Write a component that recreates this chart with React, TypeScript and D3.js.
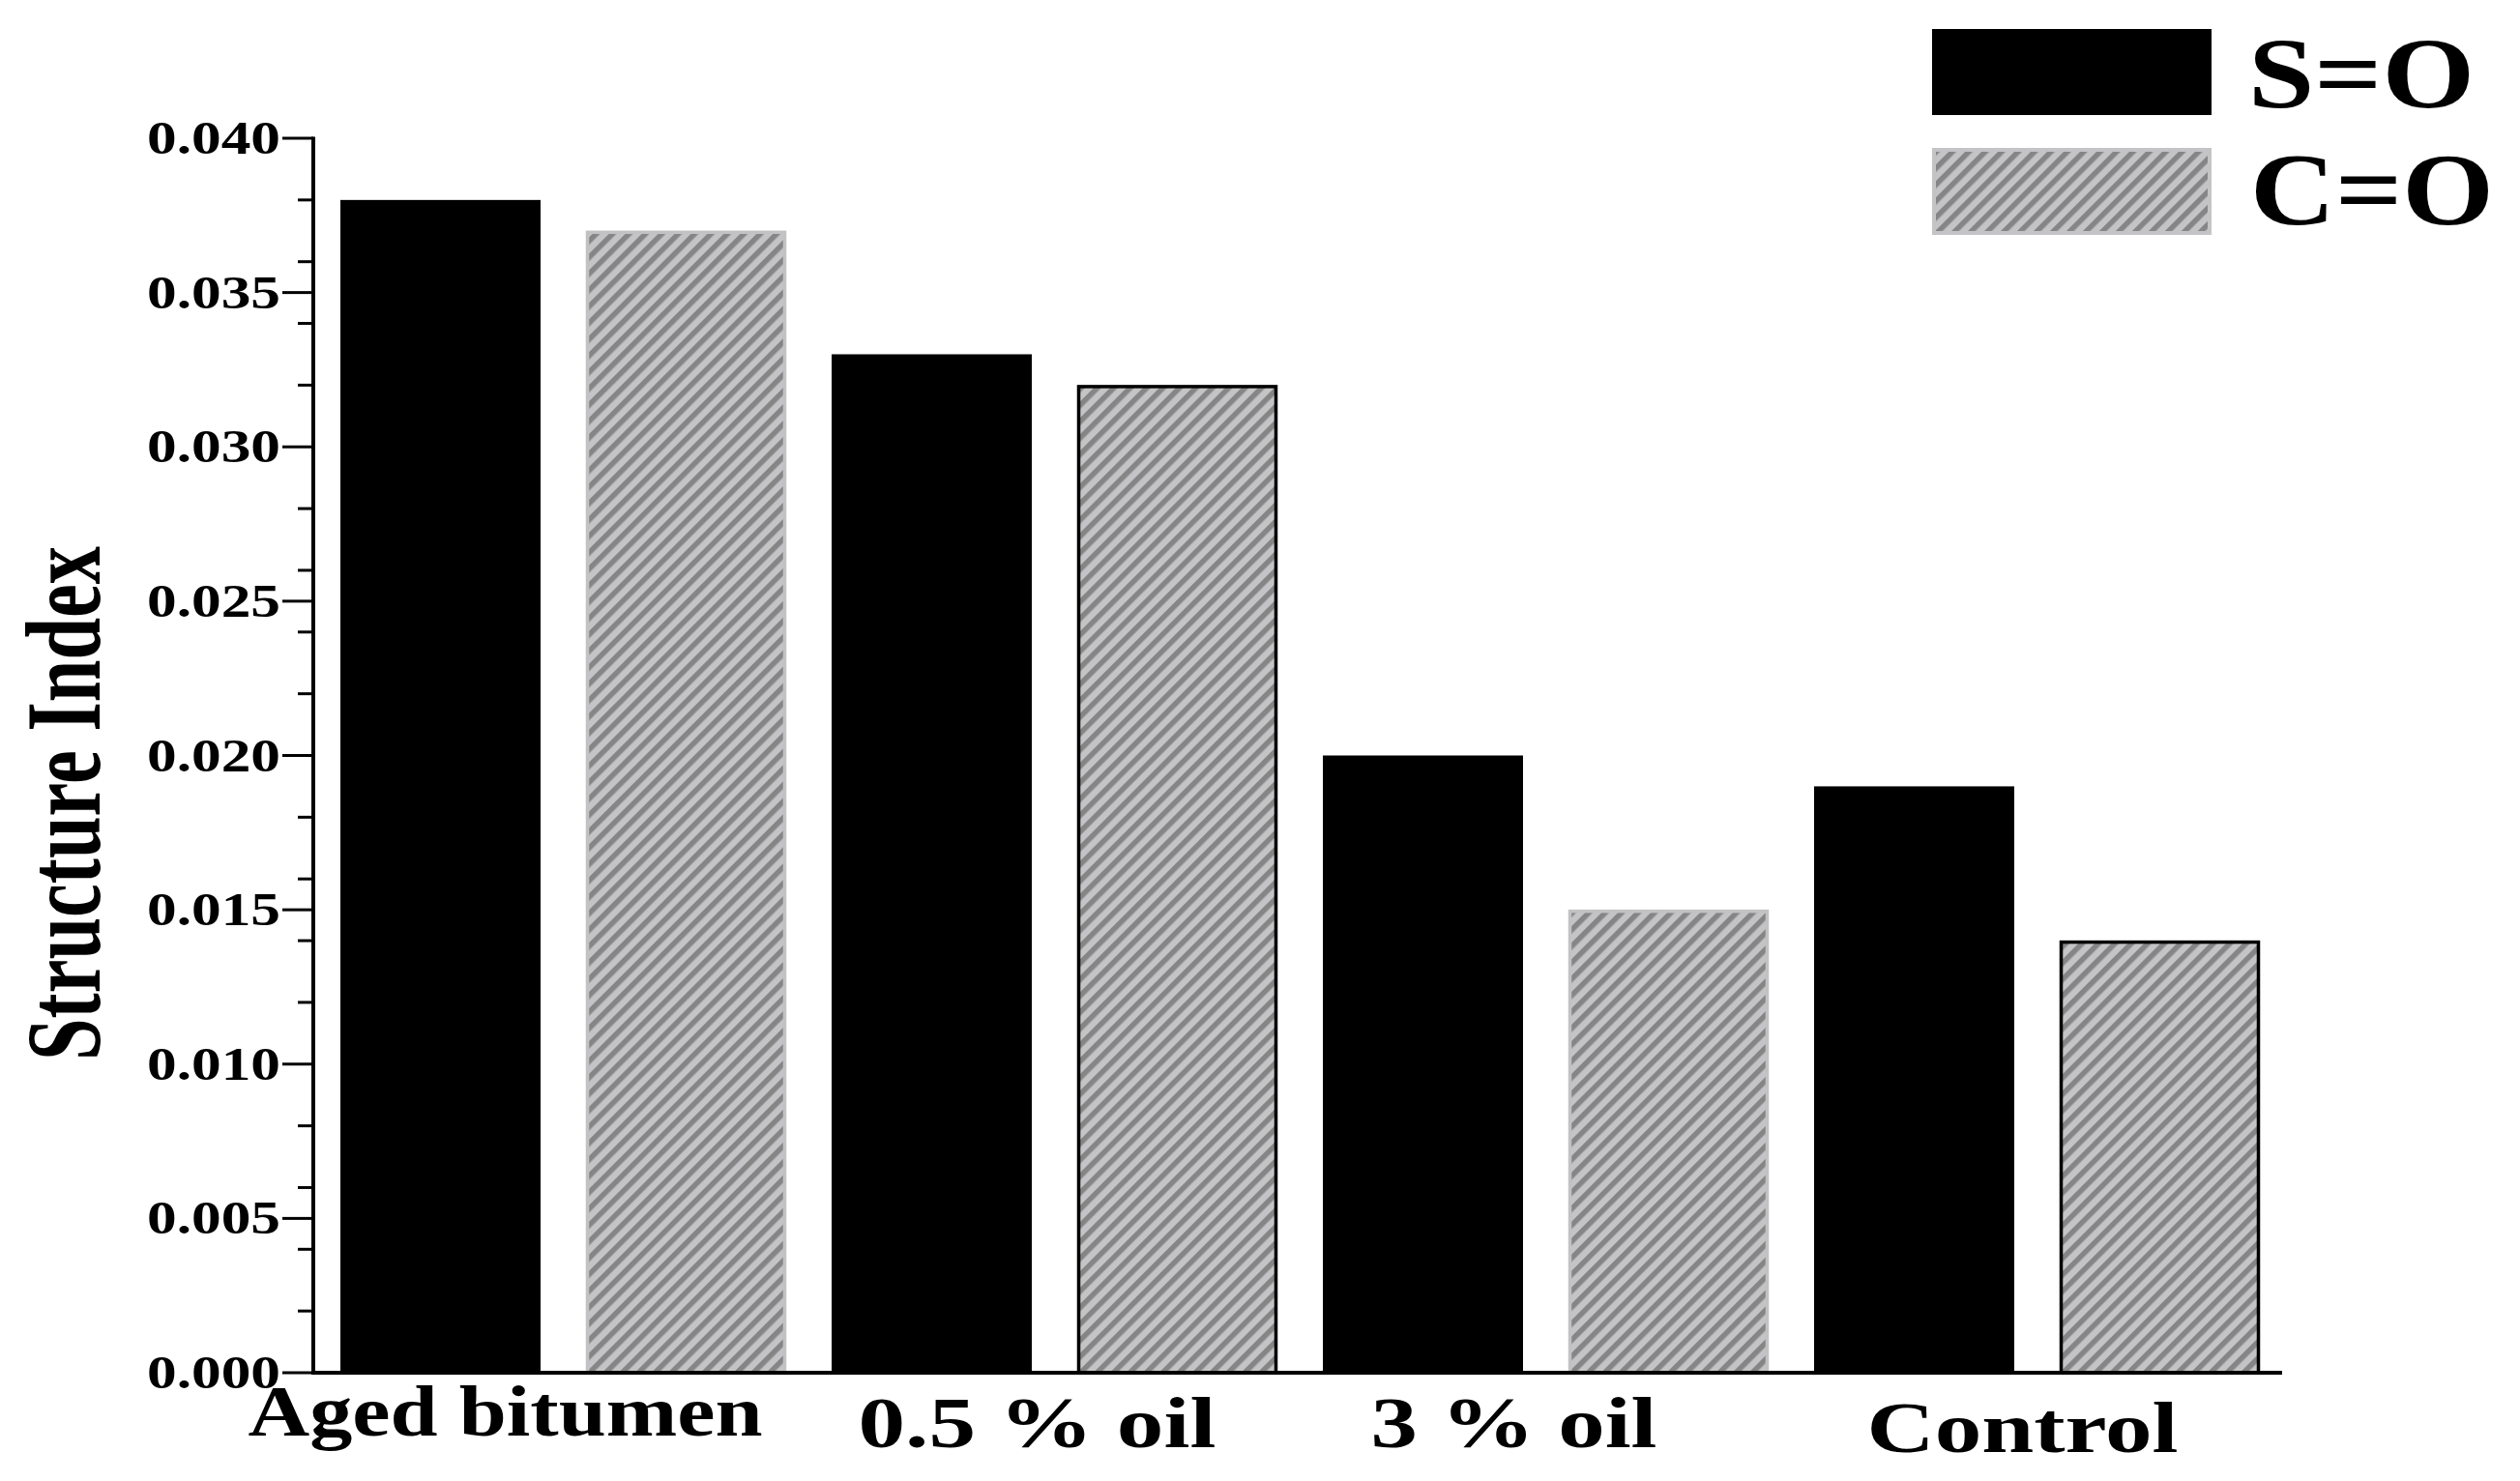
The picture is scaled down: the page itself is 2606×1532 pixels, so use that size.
import React from "react";
import * as d3 from "d3";

const categories = ["Aged bitumen", "0.5 % oil", "3 % oil", "Control"];
const seriesNames = ["S=O", "C=O"];
const soValues = [0.038, 0.033, 0.02, 0.019];
const coValues = [0.037, 0.032, 0.015, 0.014];
const yTickValues = [0, 0.005, 0.01, 0.015, 0.02, 0.025, 0.03, 0.035, 0.04];
const yTickLabels = ["0.000", "0.005", "0.010", "0.015", "0.020", "0.025", "0.030", "0.035", "0.040"];
const yTitle = "Structure Index";

// layout / style constants
const W = 2606;
const H = 1532;
const AXIS_X = 324;
const AXIS_Y = 1420;
const TOP_Y = 143;
const labelDx = [-60, -18, -33, -15];
const labelBase = [1485, 1497, 1497, 1502];
const labelLen = [532, 370, 296, 322];
const coOutline = ["#c2c2c4", "#000", "#c2c2c4", "#000"];
const FONT = "'Liberation Serif', 'Times New Roman', serif";

export default function App() {
  const y = d3.scaleLinear().domain([0, 0.04]).range([AXIS_Y, TOP_Y]);
  const x0 = d3.scaleBand<string>().domain(categories).range([328.5, 2360.5]).paddingInner(0).paddingOuter(0);
  const x1 = d3
    .scaleBand<string>()
    .domain(seriesNames)
    .range([0, x0.bandwidth()])
    .paddingInner(47 / 254)
    .paddingOuter(47 / 508);
  const minorTicks = y.ticks(16).filter((t) => !yTickValues.some((m) => Math.abs(m - t) < 1e-9));

  const rows = categories.map((c, i) => ({ c, i, so: soValues[i], co: coValues[i] }));

  return (
    <svg
      width={W}
      height={H}
      style={{ position: "absolute", left: 0, top: 0, background: "#fff" }}
      fontFamily={FONT}
      fontWeight="bold"
    >
      <defs>
        <pattern id="hatch" patternUnits="userSpaceOnUse" width={12} height={12} patternTransform="rotate(-45)">
          <rect width={12} height={12} fill="#c4c4c7" />
          <rect width={12} height={5.5} fill="#858585" />
        </pattern>
      </defs>
      <rect width={W} height={H} fill="#fff" />

      {/* bars */}
      {rows.map((r) => (
        <g key={r.c} transform={`translate(${x0(r.c)},0)`}>
          <rect
            x={x1("S=O")}
            y={y(r.so)}
            width={x1.bandwidth()}
            height={y(0) - y(r.so)}
            fill="#000"
          />
          <rect
            x={(x1("C=O") as number) + 1.5}
            y={y(r.co) + 1.5}
            width={x1.bandwidth() - 3}
            height={y(0) - y(r.co) - 1.5}
            fill="url(#hatch)"
            stroke={coOutline[r.i]}
            strokeWidth={3.5}
          />
        </g>
      ))}

      {/* y axis */}
      <line x1={AXIS_X} x2={AXIS_X} y1={TOP_Y - 1.5} y2={AXIS_Y + 2} stroke="#000" strokeWidth={4} />
      {yTickValues.map((t, i) => (
        <g key={"t" + i}>
          <line x1={AXIS_X - 32} x2={AXIS_X} y1={y(t)} y2={y(t)} stroke="#000" strokeWidth={3} />
          <text
            x={290}
            y={y(t) + 16}
            textAnchor="end"
            fontSize={48}
            textLength={138}
            lengthAdjust="spacingAndGlyphs"
            fill="#000"
          >
            {yTickLabels[i]}
          </text>
        </g>
      ))}
      {minorTicks.map((t, i) => (
        <line key={"m" + i} x1={AXIS_X - 16} x2={AXIS_X} y1={y(t)} y2={y(t)} stroke="#000" strokeWidth={3} />
      ))}

      {/* x axis */}
      <line x1={AXIS_X - 2} x2={2360} y1={AXIS_Y} y2={AXIS_Y} stroke="#000" strokeWidth={4} />
      {categories.map((c, i) => (
        <text
          key={c}
          x={(x0(c) as number) + x0.bandwidth() / 2 + labelDx[i]}
          y={labelBase[i]}
          textAnchor="middle"
          fontSize={74}
          textLength={labelLen[i]}
          lengthAdjust="spacingAndGlyphs"
          fill="#000"
        >
          {c}
        </text>
      ))}

      {/* y title */}
      <text
        transform="translate(103,831) rotate(-90)"
        textAnchor="middle"
        fontSize={110}
        textLength={532}
        lengthAdjust="spacingAndGlyphs"
        fill="#000"
      >
        {yTitle}
      </text>

      {/* legend */}
      <rect x={1998} y={30} width={289} height={89} fill="#000" />
      <rect x={2000} y={155} width={285} height={86} fill="url(#hatch)" stroke="#c4c4c7" strokeWidth={4} />
      <text x={2325} y={111} fontSize={103} textLength={234} lengthAdjust="spacingAndGlyphs" fill="#000">
        {seriesNames[0]}
      </text>
      <text x={2327} y={232} fontSize={105} textLength={252} lengthAdjust="spacingAndGlyphs" fill="#000">
        {seriesNames[1]}
      </text>
    </svg>
  );
}
